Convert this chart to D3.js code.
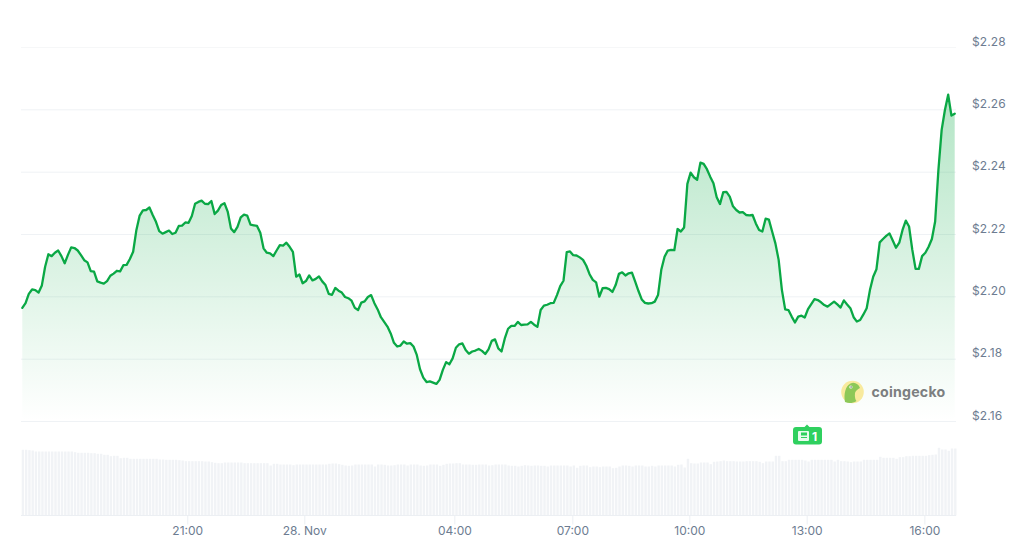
<!DOCTYPE html>
<html>
<head>
<meta charset="utf-8">
<script src="https://cdn.jsdelivr.net/npm/d3@7/dist/d3.min.js"></script>
<style>
html,body{margin:0;padding:0;background:#fff;overflow:hidden}
svg{display:block}
text{font-family:Inter,"Noto Sans",sans-serif}
</style>
</head>
<body>
<svg id="c" width="1024" height="551"></svg>
<script>
const stepMinutes = 5;
const prices = [
2.1963,2.1978,2.2008,2.2022,2.2020,2.2012,2.2035,2.2095,2.2135,2.2129,
2.2140,2.2147,2.2129,2.2106,2.2133,2.2157,2.2155,2.2147,2.2132,2.2116,
2.2109,2.2081,2.2079,2.2048,2.2044,2.2041,2.2049,2.2066,2.2073,2.2082,
2.2080,2.2100,2.2101,2.2120,2.2143,2.2213,2.2259,2.2276,2.2277,2.2285,
2.2261,2.2239,2.2209,2.2201,2.2206,2.2211,2.2200,2.2204,2.2226,2.2227,
2.2237,2.2236,2.2258,2.2297,2.2303,2.2307,2.2297,2.2296,2.2306,2.2264,
2.2275,2.2293,2.2299,2.2272,2.2218,2.2206,2.2223,2.2253,2.2262,2.2259,
2.2230,2.2228,2.2226,2.2204,2.2154,2.2140,2.2138,2.2129,2.2147,2.2164,
2.2163,2.2172,2.2159,2.2143,2.2063,2.2070,2.2042,2.2049,2.2067,2.2051,
2.2056,2.2064,2.2048,2.2036,2.2008,2.2005,2.2027,2.2018,
2.2012,2.1998,2.1994,2.1986,2.1963,2.1956,2.1980,2.1984,2.1998,2.2004,
2.1978,2.1958,2.1933,2.1918,2.1903,2.1881,2.1851,2.1839,2.1842,2.1855,
2.1848,2.1850,2.1839,2.1812,2.1766,2.1739,2.1725,2.1727,2.1723,2.1719,
2.1732,2.1764,2.1789,2.1782,2.1801,2.1835,2.1846,2.1849,2.1828,2.1816,
2.1823,2.1826,2.1831,2.1825,2.1815,2.1830,2.1857,2.1862,2.1833,2.1823,
2.1865,2.1896,2.1905,2.1905,2.1918,2.1908,2.1909,2.1910,2.1918,2.1909,
2.1902,2.1956,2.1970,2.1973,2.1978,2.1979,2.2004,2.2033,2.2050,2.2142,
2.2144,2.2132,2.2131,2.2125,2.2117,2.2098,2.2071,2.2053,2.2045,2.1999,
2.2026,2.2027,2.2023,2.2014,2.2036,2.2072,2.2077,2.2067,2.2074,2.2076,
2.2047,2.2017,2.1990,2.1979,2.1977,2.1978,2.1983,2.2004,2.2085,2.2127,2.2147,
2.2149,2.2148,2.2216,2.2208,2.2221,2.2361,2.2397,2.2382,2.2374,2.2429,
2.2425,2.2408,2.2384,2.2363,2.2318,2.2296,2.2334,2.2335,2.2320,2.2289,
2.2277,2.2269,2.2270,2.2261,2.2260,2.2261,2.2234,2.2213,2.2208,2.2249,
2.2246,2.2208,2.2170,2.2117,2.2020,2.1958,2.1956,2.1935,2.1916,2.1935,
2.1938,2.1932,2.1959,2.1975,2.1991,2.1988,2.1981,2.1972,2.1967,2.1975,
2.1983,2.1974,2.1964,2.1987,2.1974,2.1962,2.1933,2.1919,2.1924,2.1942,
2.1962,2.2020,2.2063,2.2087,2.2173,2.2184,2.2194,2.2202,2.2179,2.2156,
2.2172,2.2213,2.2243,2.2224,2.2149,2.2088,2.2088,2.2129,2.2140,2.2159,
2.2184,2.2240,2.2405,2.2534,2.2598,2.2647,2.2580,2.2586
];
const volumes = [
65.7,65.7,65.3,65,64,64,64,64,64,64,
64,64,64,64,64,64,63.3,62.7,62.7,62.7,
62.7,62.3,62.3,61.7,61.7,60.7,60.7,59.3,59.7,59.7,
57.3,57.7,57.7,56.7,56.7,56.7,56.7,56.7,56.7,56.7,
56.7,56.7,56,56,55.7,55.7,55.7,55.7,55.3,55,
54.3,54.3,54.3,54.3,54.3,54.3,54,54,53.3,52.7,
52.3,52.3,53,53,53,53,53,53,52.3,52.3,
52.3,52.3,52.3,52.3,52.3,52.3,50,51.7,51.7,51,
51,51,51,50.3,51,51,51,51,51,51,
51,51,51,51,51.7,52,
52,51.3,50.7,50,49.7,50,51,51,51,51,
51,51,49,51,51,50.7,50,50,50.3,51,
51,51,50,51,51,51,50,49.7,50,51,
51,51,49.7,50.7,51.7,52,52,52.3,52.3,51,
51,51,50.7,50.7,51,51,51,50,50.3,51,
51,51,51,50,49.7,49.7,49,49.7,50.3,50,
49.7,50,50,49.7,49.7,49,50,50,50,50,
50,50,49,50,47.7,49.7,50,50,48.3,49,
49,48.3,49,49,49,47.3,47.7,49,50,50,
49.7,49,50,50,50,49,49,
49.7,49,50,50,50,50,50,49,50.7,51,48,
56.7,
52.3,52,52,53,53,53,51.3,53.7,54,54.3,
55,54.3,54.3,54.3,54,54,54,54.3,54.3,54.3,
54.3,53.7,52.3,54,54,54,59.7,59.7,54.3,54.3,
55.7,55.7,55.7,55.7,55.7,55,54,55.7,55.7,55.7,55.7,55.7,55.7,55.7,
54,55.7,54.3,54.3,54,53.3,54,54,54,55.7,55.7,55.7,55.7,55.7,
58.7,57.7,57.7,57.7,57.7,56.7,58.3,58.3,59.3,59.3,
59.7,59.7,59.7,59.7,59.7,60.3,60.7,61,
67.7,66,66,64.7,67,67
];
const priceTicks = [2.16,2.18,2.20,2.22,2.24,2.26,2.28];
const timeTickMinutes = [253,432.5,662.6,843.6,1023,1203,1383.5];
const timeTickLabels = ["21:00","28. Nov","04:00","07:00","10:00","13:00","16:00"];
const newsCount = "1";
const brand = "coingecko";

const svg = d3.select("#c");
const x = d3.scaleLinear().domain([0,(prices.length-1)*stepMinutes]).range([22.3,954.7]);
const y = d3.scaleLinear().domain([2.16,2.28]).range([421,47]);
const yv = d3.scaleLinear().domain([0,100]).range([515.5,415.5]);

const defs = svg.append("defs");
const g = defs.append("linearGradient").attr("id","fill").attr("gradientUnits","userSpaceOnUse")
  .attr("x1",0).attr("x2",0).attr("y1",y(d3.max(prices))).attr("y2",y(2.16));
g.append("stop").attr("offset",0).attr("stop-color","#00a83e").attr("stop-opacity",0.3);
g.append("stop").attr("offset",1).attr("stop-color","#00a83e").attr("stop-opacity",0);

// grid
svg.append("g").selectAll("line").data(priceTicks).join("line")
  .attr("x1",21).attr("x2",956).attr("y1",d=>y(d)+.5).attr("y2",d=>y(d)+.5)
  .attr("stroke",d=>d===2.28?"#f6f7f8":"#eff2f5").attr("stroke-width",1);

// y axis labels
const yAxis = svg.append("g").attr("transform","translate(972,0)")
  .call(d3.axisRight(y).tickValues(priceTicks).tickFormat(d=>"$"+d3.format(".2f")(d)).tickSize(0).tickPadding(0));
yAxis.select(".domain").remove();
yAxis.selectAll("text").attr("font-size",12).attr("fill","#6d7c91").attr("dy","-0.14em").attr("text-anchor","start")
  .attr("letter-spacing",0.1).style("font-family","Inter,sans-serif");

// volume bars
svg.append("g").selectAll("rect").data(volumes).join("rect")
  .attr("x",(d,i)=>x(i*stepMinutes)-0.6).attr("width",2.4)
  .attr("y",d=>yv(d)).attr("height",d=>yv(0)-yv(d)).attr("fill","#f1f3f6");

// area + line
const pts = prices.map((p,i)=>[i*stepMinutes,p]);
svg.append("path").datum(pts).attr("fill","url(#fill)")
  .attr("d",d3.area().x(d=>x(d[0])).y0(y(2.16)).y1(d=>y(d[1])));
svg.append("path").datum(pts).attr("fill","none").attr("stroke","#0aa845").attr("stroke-width",2.3)
  .attr("stroke-linejoin","round").attr("stroke-linecap","round")
  .attr("d",d3.line().x(d=>x(d[0])).y(d=>y(d[1])));

// x axis
svg.append("line").attr("x1",21).attr("x2",956).attr("y1",515.5).attr("y2",515.5).attr("stroke","#eceff3");
const xAxis = svg.append("g").attr("transform","translate(0,515.5)")
  .call(d3.axisBottom(x).tickValues(timeTickMinutes).tickFormat((d,i)=>timeTickLabels[i]).tickSize(9).tickPadding(5.5));
xAxis.select(".domain").remove();
xAxis.selectAll("line").attr("stroke","#eceff3");
xAxis.selectAll("text").attr("font-size",12).attr("fill","#6d7c91").attr("dy","0.45em").style("font-family","Inter,sans-serif");

// brand mark
const logo = svg.append("g").attr("transform","translate(852.5,392)");
logo.append("circle").attr("r",11.3).attr("fill","#f8ea9e");
logo.append("path").attr("fill","#8dc858")
  .attr("d","M-7.5,10 C-9,2 -7,-6 -2,-8.5 C2,-10.5 6,-8 7.5,-4 C5,-2.5 3,-1.5 2.5,1 C2,5 3,8 4,9 C0,11.5 -4,11.5 -7.5,10Z");
logo.append("circle").attr("cx",-1.6).attr("cy",-5).attr("r",1.6).attr("fill","#fff");
logo.append("circle").attr("cx",-1.4).attr("cy",-5).attr("r",.8).attr("fill","#59635a");
svg.append("text").attr("x",871.5).attr("y",396.5).attr("font-size",14.2).attr("font-weight",700)
  .attr("letter-spacing",0.2).attr("fill","#7c7f80").text(brand);

// news badge
const badge = svg.append("g").attr("transform","translate(793,427)");
badge.append("path").attr("fill","#2fd05f")
  .attr("d","M3,0 H11.5 L14,-2.5 L16.5,0 H26 a3,3 0 0 1 3,3 V14.5 a3,3 0 0 1 -3,3 H3 a3,3 0 0 1 -3,-3 V3 a3,3 0 0 1 3,-3Z");
badge.append("rect").attr("x",5).attr("y",4).attr("width",11).attr("height",10).attr("rx",1).attr("fill","#e9fbef");
badge.append("rect").attr("x",8).attr("y",5.5).attr("width",6).attr("height",3).attr("fill","#2fd05f");
badge.append("rect").attr("x",8).attr("y",10).attr("width",6).attr("height",1).attr("fill","#2fd05f");
badge.append("text").attr("x",19).attr("y",13.5).attr("font-size",12).attr("font-weight",700).attr("fill","#fff").text(newsCount);
</script>
</body>
</html>
